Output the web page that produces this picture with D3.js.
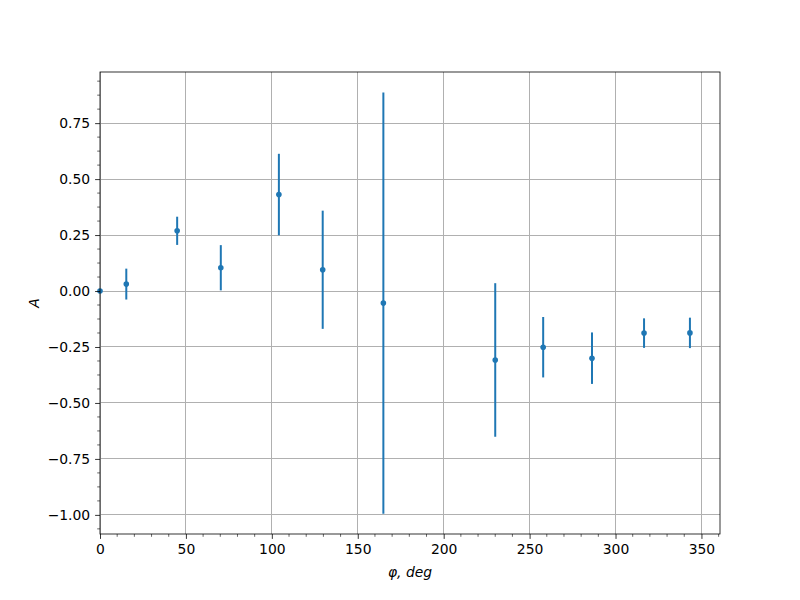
<!DOCTYPE html>
<html><head><meta charset="utf-8">
<script src="https://cdn.jsdelivr.net/npm/d3@7"></script>
<style>body{margin:0;background:#fff}svg{display:block}text{font-family:"DejaVu Sans",sans-serif}</style>
</head><body>
<script>
const phi = [0, 15.3, 44.9, 70.3, 104.1, 129.6, 164.9, 230, 257.9, 286.3, 316.6, 343.3];
const A = [0, 0.031, 0.269, 0.104, 0.431, 0.095, -0.054, -0.308, -0.251, -0.300, -0.188, -0.187];
const errA = [0, 0.069, 0.063, 0.101, 0.182, 0.264, 0.941, 0.343, 0.135, 0.115, 0.066, 0.068];
const xTicks = [0, 50, 100, 150, 200, 250, 300, 350];
const yTicks = [-1.0, -0.75, -0.5, -0.25, 0, 0.25, 0.5, 0.75];

const W = 800, H = 600;
const L = 100, R = 720, T = 72, B = 534;
const svg = d3.select("body").append("svg").attr("width", W).attr("height", H);
const x = d3.scaleLinear().domain([0, 360.8]).range([L, R]);
const y = d3.scaleLinear().domain([-1.0854, 0.9784]).range([B, T]);
const fmtY = v => d3.format(".2f")(v).replace("-", "\u2212");

// grid
const g = svg.append("g").attr("shape-rendering", "crispEdges");
g.selectAll(".gx").data(xTicks).enter().append("line")
  .attr("x1", d => x(d)).attr("x2", d => x(d)).attr("y1", T).attr("y2", B)
  .attr("stroke", "#b0b0b0").attr("stroke-width", 1);
g.selectAll(".gy").data(yTicks).enter().append("line")
  .attr("x1", L).attr("x2", R).attr("y1", d => y(d)).attr("y2", d => y(d))
  .attr("stroke", "#b0b0b0").attr("stroke-width", 1);

// error bars
const pts = phi.map((p, i) => ({p, a: A[i], e: errA[i]}));
svg.append("g").selectAll("line").data(pts.filter(d => d.e > 0)).enter().append("line")
  .attr("x1", d => x(d.p)).attr("x2", d => x(d.p))
  .attr("y1", d => y(d.a + d.e)).attr("y2", d => y(d.a - d.e))
  .attr("stroke", "#1f77b4").attr("stroke-width", 2);
svg.append("g").selectAll("circle").data(pts).enter().append("circle")
  .attr("cx", d => x(d.p)).attr("cy", d => y(d.a)).attr("r", 2.8)
  .attr("fill", "#1f77b4");

// axes
const xMinor = d3.range(0, 361, 10).filter(v => v % 50 !== 0);
const yMinor = d3.range(-1.0625, 0.98, 0.0625).filter(v => Math.abs(v / 0.25 - Math.round(v / 0.25)) > 1e-6);
const xa = svg.append("g").attr("transform", `translate(0,${B})`)
  .call(d3.axisBottom(x).tickValues(xTicks).tickFormat(d3.format("d")).tickSize(4.9).tickPadding(4.9));
xa.append("g").selectAll("line").data(xMinor).enter().append("line")
  .attr("x1", d => x(d)).attr("x2", d => x(d)).attr("y1", 0).attr("y2", 2.8).attr("stroke", "#000").attr("stroke-width", 0.6);
const ya = svg.append("g").attr("transform", `translate(${L},0)`)
  .call(d3.axisLeft(y).tickValues(yTicks).tickFormat(fmtY).tickSize(4.9).tickPadding(4.9));
ya.append("g").selectAll("line").data(yMinor).enter().append("line")
  .attr("y1", d => y(d)).attr("y2", d => y(d)).attr("x1", 0).attr("x2", -2.8).attr("stroke", "#000").attr("stroke-width", 0.6);
[xa, ya].forEach(a => {
  a.select(".domain").remove();
  a.selectAll(".tick line").attr("stroke-width", 0.8);
  a.selectAll("text").attr("font-size", 13.9).attr("fill", "#000").style("font-family", "DejaVu Sans");
});
svg.append("rect").attr("x", L).attr("y", T).attr("width", R - L).attr("height", B - T)
  .attr("fill", "none").attr("stroke", "#000").attr("stroke-width", 0.8);

// labels
svg.append("text").attr("x", (L + R) / 2).attr("y", 577).attr("text-anchor", "middle")
  .attr("font-size", 13.9).attr("font-style", "italic").text("\u03c6, deg");
svg.append("text").attr("transform", `translate(39,${(T + B) / 2}) rotate(-90)`).attr("text-anchor", "middle")
  .attr("font-size", 13.9).attr("font-style", "italic").text("A");
</script>
</body></html>
